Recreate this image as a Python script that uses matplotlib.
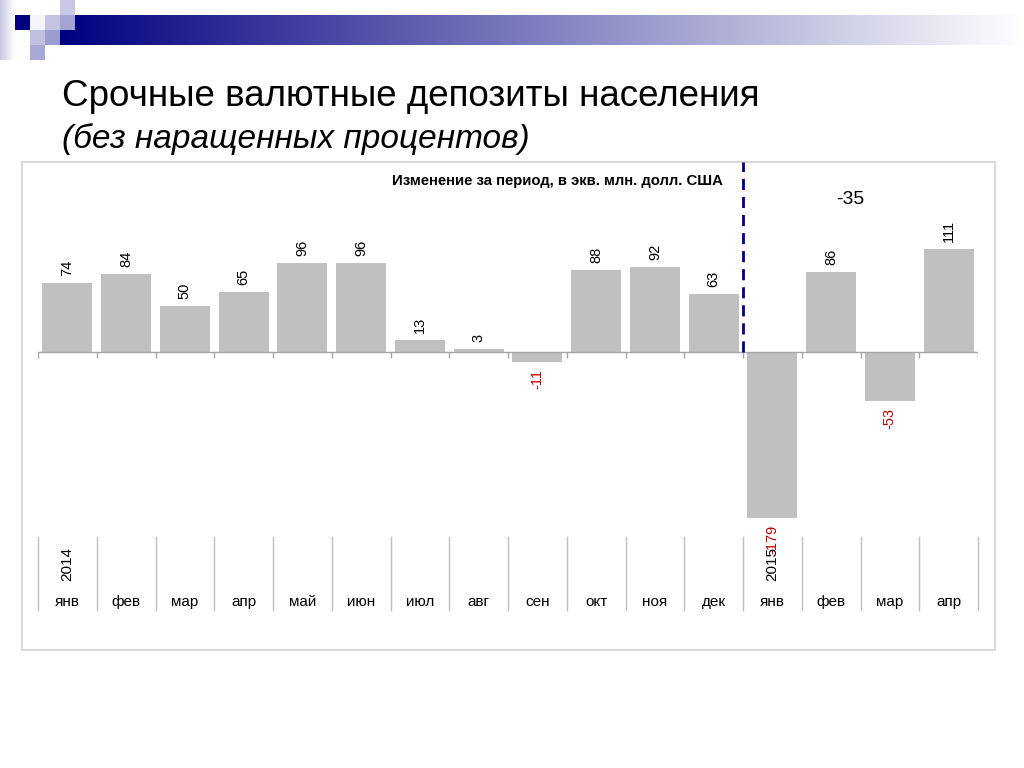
import numpy as np
import matplotlib
matplotlib.use("Agg")
import matplotlib.pyplot as plt
from matplotlib.patches import Rectangle
from matplotlib.transforms import blended_transform_factory

plt.rcParams['font.family'] = ['Liberation Sans', 'DejaVu Sans']

# ---- data ----
months = ["янв", "фев", "мар", "апр", "май", "июн", "июл", "авг",
          "сен", "окт", "ноя", "дек", "янв", "фев", "мар", "апр"]
years = {0: "2014", 12: "2015"}
values = [74, 84, 50, 65, 96, 96, 13, 3, -11, 88, 92, 63, -179, 86, -53, 111]
title = "Срочные валютные депозиты населения"
subtitle = "(без наращенных процентов)"
chart_title = "Изменение за период, в экв. млн. долл. США"
total_label = "-35"

W, H = 1024, 768
fig = plt.figure(figsize=(W / 100, H / 100), dpi=100)

# ---- background decoration (slide) ----
bg = fig.add_axes([0, 0, 1, 1], zorder=0)
bg.set_xlim(0, W)
bg.set_ylim(H, 0)
bg.axis('off')

# gradient bar
n = 512
t = np.linspace(0, 1, n)
navy = np.array([0, 0, 128]) / 255
grad = navy[None, :] * (1 - t[:, None]) + np.ones(3)[None, :] * t[:, None]
bg.imshow(grad[None, :, :], extent=[60, W, 45, 15], aspect='auto', zorder=1)

# left faded strip
tt = np.linspace(0, 1, 20)
lav = np.array([200, 200, 228]) / 255
strip = (lav[None, :] * (1 - tt[:, None]) + np.ones(3)[None, :] * tt[:, None])[None, :, :]
bg.imshow(strip, extent=[0, 15, 60, 0], aspect='auto', zorder=1)

squares = [
    (15, 15, '#000080'),
    (30, 15, '#f4f4fa'),
    (45, 15, '#c4c4e2'),
    (60, 15, '#a4a4d2'),
    (60, 0, '#c8c8e6'),
    (30, 30, '#c0c0e0'),
    (45, 30, '#9c9cce'),
    (30, 45, '#a8a8d6'),
]
for x0, y0, c in squares:
    bg.add_patch(Rectangle((x0, y0), 15, 15, fc=c, ec='none', zorder=2))

# titles
bg.text(62, 106, title, fontsize=26.5, color='black', va='baseline', ha='left')
bg.text(62, 148, subtitle, fontsize=24, color='black', style='italic',
        va='baseline', ha='left')

# chart panel border
bg.add_patch(Rectangle((22, 162), 973, 488, fill=False, ec='#d9d9d9', lw=1.5, zorder=2))

# ---- main chart axes ----
px_left, px_right, px_top, px_bot = 38, 978, 162, 610
ax = fig.add_axes([px_left / W, 1 - px_bot / H, (px_right - px_left) / W,
                   (px_bot - px_top) / H], zorder=1)
ax.patch.set_alpha(0)
scale = 0.927  # px per unit
zero_px = 352
ax.set_xlim(-0.5, len(values) - 0.5)
ax.set_ylim(-(px_bot - zero_px) / scale, (zero_px - px_top) / scale)
for s in ax.spines.values():
    s.set_visible(False)
ax.set_xticks([])
ax.set_yticks([])

x = np.arange(len(values))
ax.bar(x, values, width=0.85, color='#c0c0c0', zorder=2)

# zero line and ticks
ax.axhline(0, color='#a6a6a6', lw=1, zorder=3)
ax.vlines(np.arange(len(values) + 1) - 0.5, -5.5 / scale, 0, color='#a6a6a6', lw=1, zorder=3)

# value labels
for xi, v in zip(x, values):
    if v >= 0:
        ax.annotate(str(v), (xi, v), xytext=(0, 5), textcoords='offset points',
                    rotation=90, ha='center', va='bottom', fontsize=10.5, color='black',
                    zorder=4)
    else:
        ax.annotate(str(v), (xi, v), xytext=(0, -5), textcoords='offset points',
                    rotation=90, ha='center', va='top', fontsize=10.5, color='#c00000',
                    zorder=4)

# category area below
tr = blended_transform_factory(ax.transData, fig.transFigure)
for b in np.arange(len(values) + 1) - 0.5:
    ax.plot([b, b], [1 - 537 / H, 1 - 610 / H], transform=tr, color='#bfbfbf',
            lw=1, clip_on=False, zorder=3)
for xi, m in zip(x, months):
    ax.text(xi, 1 - 602 / H, m, transform=tr, ha='center', va='center',
            fontsize=11, color='black')
for xi, yl in years.items():
    ax.text(xi, 1 - 564 / H, yl, transform=tr, ha='center', va='center',
            rotation=90, fontsize=11, color='black')

# dashed separator between years
ax.plot([11.5, 11.5], [0, ax.get_ylim()[1]], color='#000080', lw=2,
        linestyle=(0, (4, 2.5)), zorder=5)

# chart title and total
fig.text(557 / W, 1 - 181 / H, chart_title, ha='center', va='center',
         fontsize=10.7, fontweight='bold', color='black')
fig.text(850 / W, 1 - 200 / H, total_label, ha='center', va='center',
         fontsize=14, color='black')

fig.savefig("out.png", dpi=100)
